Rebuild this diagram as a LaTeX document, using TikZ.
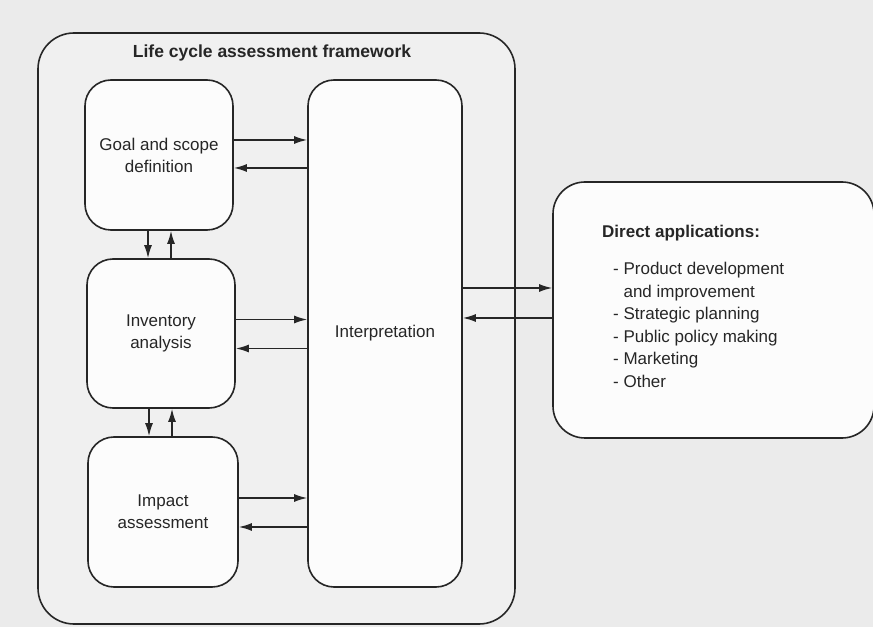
\documentclass[tikz,border=0pt]{standalone}
\usepackage{fontspec}
\setmainfont{Liberation Sans}
\usetikzlibrary{arrows.meta,calc}
\begin{document}
\begin{tikzpicture}[x=1pt,y=1pt,
  box/.style={draw=black!85,line width=1.6pt,rounded corners=26pt,fill=white!60!black!3,inner sep=0pt},
  arr/.style={draw=black!85,line width=1.6pt,-{Latex[length=13pt,width=8pt]}},
  lbl/.style={font=\fontsize{17}{22}\selectfont,align=center,text=black!85}]
\fill[black!8] (0,0) rectangle (873,627);
\useasboundingbox (0,0) rectangle (873,627);
% outer frame
\node[box,fill=black!6,rounded corners=36pt,minimum width=477pt,minimum height=591pt] (frame) at (276.5,{627-328.5}) {};
\node[font=\bfseries\fontsize{17.5}{20}\selectfont,text=black!85] (title) at (272,{627-53}) {Life cycle assessment framework};
% inner boxes
\node[box,minimum width=148pt,minimum height=150pt] (goal) at (159,{627-155}) {};
\node[lbl] (goalt) at (goal) {Goal and scope\\definition};
\node[box,minimum width=148pt,minimum height=149pt] (inv) at (161,{627-333.5}) {};
\node[lbl] (invt) at (inv) {Inventory\\analysis};
\node[box,minimum width=150pt,minimum height=150pt] (imp) at (163,{627-512}) {};
\node[lbl] (impt) at (imp) {Impact\\assessment};
\node[box,minimum width=154pt,minimum height=507pt] (interp) at (385,{627-333.5}) {};
\node[lbl] (interpt) at (interp) {Interpretation};
% direct applications
\node[box,rounded corners=32pt,minimum width=321pt,minimum height=256pt] (dir) at (713.5,{627-310}) {};
\node[font=\bfseries\fontsize{17}{20}\selectfont,text=black!85,anchor=west,inner sep=0pt] (dirt) at (602,{627-233}) {Direct applications:};
\node[font=\fontsize{17}{22.5}\selectfont,text=black!85,align=left,anchor=north west,inner sep=0pt] (dirl) at (613,{627-262}) {- Product development\\\phantom{- }and improvement\\- Strategic planning\\- Public policy making\\- Marketing\\- Other};
% horizontal arrows
\draw[arr] ([yshift=15pt]goal.east) -- ([yshift=15pt]goal.east -| interp.west);
\draw[arr] ([yshift=-13pt]goal.east -| interp.west) -- ([yshift=-13pt]goal.east);
\draw[arr] ([yshift=14pt]inv.east) -- ([yshift=14pt]inv.east -| interp.west);
\draw[arr] ([yshift=-15pt]inv.east -| interp.west) -- ([yshift=-15pt]inv.east);
\draw[arr] ([yshift=14pt]imp.east) -- ([yshift=14pt]imp.east -| interp.west);
\draw[arr] ([yshift=-15pt]imp.east -| interp.west) -- ([yshift=-15pt]imp.east);
\draw[arr] ([yshift=22pt]dir.west -| interp.east) -- ([yshift=22pt]dir.west);
\draw[arr] ([yshift=-8pt]dir.west) -- ([yshift=-8pt]dir.west -| interp.east);
% vertical arrows
\draw[arr] (goal.south -| 148,0) -- (inv.north -| 148,0);
\draw[arr] (inv.north -| 171,0) -- (goal.south -| 171,0);
\draw[arr] (inv.south -| 149,0) -- (imp.north -| 149,0);
\draw[arr] (imp.north -| 172,0) -- (inv.south -| 172,0);
\end{tikzpicture}
\end{document}
